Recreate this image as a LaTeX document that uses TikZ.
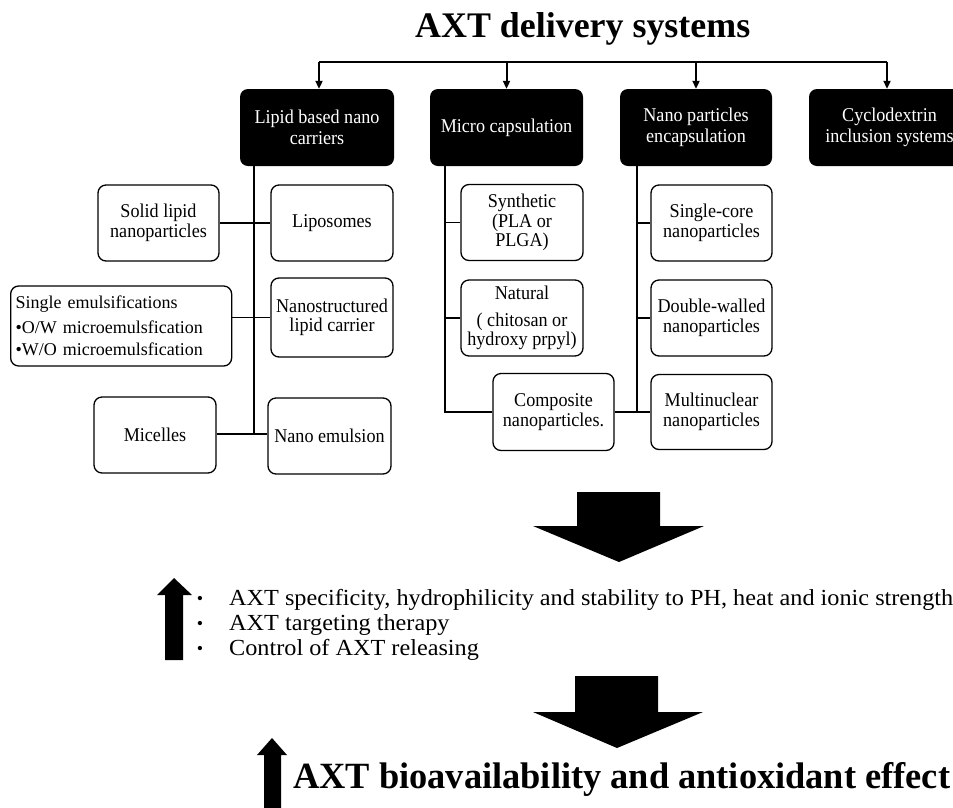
\documentclass[tikz,border=0pt]{standalone}
\usepackage{fontspec}
\setmainfont{Liberation Serif}
\newfontfamily\boxfont[FakeStretch=0.93]{Liberation Serif}
\usepackage{graphicx}
\usetikzlibrary{arrows.meta}

\tikzset{
  catbox/.style={fill=black, text=white, rounded corners=8pt, align=center,
    inner sep=2pt, font=\boxfont\fontsize{19.5}{20.5}\selectfont,
    minimum height=77pt},
  subbox/.style={draw=black, line width=1.3pt, rounded corners=8pt, align=center,
    inner sep=2pt, font=\boxfont\fontsize{19.5}{19.5}\selectfont,
    minimum width=122pt, minimum height=76pt},
  link/.style={line width=1.4pt},
  feed/.style={line width=2pt, -{Triangle[length=8pt,width=7pt]}},
  bigarrow/.style={fill=black},
  bul/.style={font=\fontsize{18}{18}\selectfont, inner sep=0pt}
}

\begin{document}
\begin{tikzpicture}[x=1pt, y=-1pt]
\useasboundingbox (0,0) rectangle (953,807);
\clip (0,0) rectangle (953,807);

% title
\node[anchor=base west, inner sep=0pt] (title) at (415,37)
  {\resizebox{335pt}{\height}{\fontsize{36}{40}\selectfont\bfseries AXT delivery systems}};

% four families of carriers
\node[catbox, minimum width=154pt] (lipid) at (317,127.5) {Lipid based nano\\carriers};
\node[catbox, minimum width=153pt] (micro) at (506.5,127.5) {Micro capsulation};
\node[catbox, minimum width=152pt] (nano)  at (696,127.5) {Nano particles\\encapsulation};
\node[catbox, minimum width=161pt] (cyclo) at (889.5,127.5) {Cyclodextrin\\inclusion systems};

% distribution bar
\coordinate (barL) at (319,62);
\coordinate (barR) at (887,62);
\draw[line width=2pt] (barL) -- (barR);
\draw[feed] (barL) -- (barL |- lipid.north);
\draw[feed] (micro.north |- barL) -- (micro.north);
\draw[feed] (nano.north |- barL) -- (nano.north);
\draw[feed] (barR) -- (barR |- cyclo.north);

% lipid based carriers
\node[subbox, minimum width=121pt] (solid) at (158.5,223) {Solid lipid\\nanoparticles};
\node[subbox] (lipo) at (332,223) {Liposomes};
\node[subbox, minimum width=221pt, minimum height=80pt, align=left, anchor=west,
      text width=211pt, font=\fontsize{18}{22}\selectfont] (emul) at (10,326)
  {Single emulsifications\\[3pt]\textbullet O/W microemulsfication\\\textbullet W/O microemulsfication};
\node[subbox, minimum height=79pt] (nlc) at (332,317.5) {Nanostructured\\lipid carrier};
\node[subbox] (mic) at (155,435) {Micelles};
\node[subbox, minimum width=123pt] (nem) at (329.5,436) {Nano emulsion};

\coordinate (lt) at (254,166);
\draw[link] (lt) -- (254,434) coordinate (lb);
\draw[link] (solid.east) -- (lipo.west);
\draw[link] (nlc.west) -- (nlc.west -| emul.east);
\draw[link] (mic.east |- lb) -- (nem.west |- lb);

% micro capsulation
\node[subbox] (syn) at (522,222.5) {Synthetic\\(PLA or\\PLGA)};
\node[subbox] (nat) at (522,318) {Natural\\[7pt] ( chitosan or\\hydroxy prpyl)};
\node[subbox, minimum width=121pt, minimum height=77pt] (comp) at (553.5,412) {Composite\\nanoparticles.};

\coordinate (mt) at (445,166);
\draw[link] (mt) |- (comp.west);
\draw[link] (syn.west -| mt) -- (syn.west);
\draw[link] (nat.west -| mt) -- (nat.west);

% nano particles encapsulation
\node[subbox, minimum width=121pt] (single) at (711.5,223) {Single-core\\nanoparticles};
\node[subbox, minimum width=121pt] (dbl) at (711.5,318) {Double-walled\\nanoparticles};
\node[subbox, minimum width=121pt, minimum height=75pt] (multi) at (711.5,412) {Multinuclear\\nanoparticles};

\coordinate (nt) at (637,166);
\draw[link] (nt) |- (multi.west);
\draw[link] (comp.east) -- (multi.west);
\draw[link] (single.west -| nt) -- (single.west);
\draw[link] (dbl.west -| nt) -- (dbl.west);

% first block arrow
\fill[bigarrow] (577,492) -- (660,492) -- (660,526) -- (704,526) -- (619,562)
  -- (533,526) -- (577,526) -- cycle;

% outcomes
\fill[bigarrow] (174,578) -- (192,595) -- (183,595) -- (183,660) -- (165,660)
  -- (165,595) -- (157,595) -- cycle;
\node[bul] (b1) at (200,600) {\textbullet};
\node[bul] (b2) at (200,625) {\textbullet};
\node[bul] (b3) at (200,650) {\textbullet};
\node[anchor=west, inner sep=0pt] (effects) at (229,625)
  {\resizebox{724pt}{\height}{\fontsize{23}{25}\selectfont
   \begin{tabular}{@{}l@{}}
   AXT specificity, hydrophilicity and stability to PH, heat and ionic strength\\
   AXT targeting therapy\\
   Control of AXT releasing
   \end{tabular}}};

% second block arrow
\fill[bigarrow] (575,676) -- (658,676) -- (658,712) -- (703,712) -- (617,748)
  -- (533,712) -- (575,712) -- cycle;

% final outcome
\fill[bigarrow] (272,738) -- (287,755) -- (281,755) -- (281,810) -- (264,810)
  -- (264,755) -- (257,755) -- cycle;
\node[anchor=base west, inner sep=0pt] (result) at (293,788)
  {\resizebox{657pt}{\height}{\fontsize{37}{40}\selectfont\bfseries AXT bioavailability and antioxidant effect}};
\end{tikzpicture}
\end{document}
